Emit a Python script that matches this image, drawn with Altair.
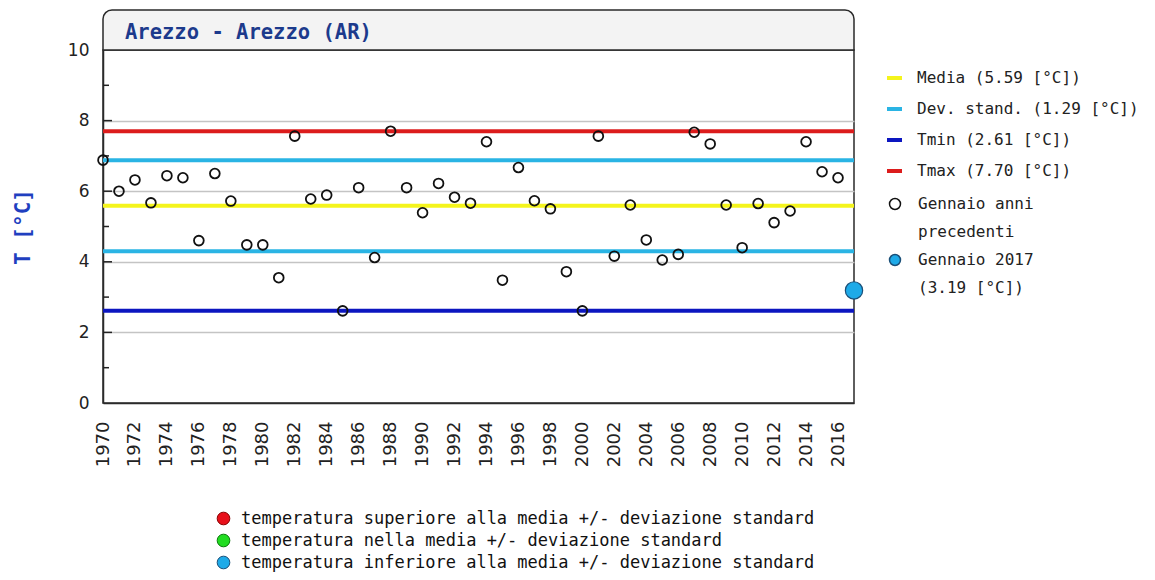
import altair as alt
import pandas as pd

# ---------------- data ----------------
years = list(range(1970, 2017))
temps = [6.88, 6.00, 6.32, 5.67, 6.44, 6.38, 4.60, 6.50, 5.72, 4.48,
         4.48, 3.55, 7.56, 5.78, 5.89, 2.61, 6.10, 4.12, 7.70, 6.10,
         5.39, 6.22, 5.83, 5.66, 7.40, 3.48, 6.67, 5.73, 5.50, 3.72,
         2.61, 7.56, 4.16, 5.61, 4.62, 4.05, 4.21, 7.67, 7.34, 5.61,
         4.40, 5.65, 5.11, 5.44, 7.40, 6.55, 6.38]
year_now = 2017
temp_now = 3.19

media = 5.59
dev_std = 1.29
tmin = 2.61
tmax = 7.70

line_labels = ["Media (5.59 [°C])", "Dev. stand. (1.29 [°C])",
               "Tmin (2.61 [°C])", "Tmax (7.70 [°C])"]
line_colors = ["#f4f41c", "#2ab4e4", "#0c16c0", "#dc1c1c"]

point_labels = ["Gennaio anni", "precedenti", "Gennaio 2017", "(3.19 [°C])"]
point_fills = ["transparent", "transparent", "#1eaae8", "transparent"]
point_strokes = ["#111111", "transparent", "#1a4f78", "transparent"]

class_labels = ["temperatura superiore alla media +/- deviazione standard",
                "temperatura nella media +/- deviazione standard",
                "temperatura inferiore alla media +/- deviazione standard"]
class_fills = ["#e8101a", "#22dd22", "#1eaae8"]
class_strokes = ["#8a0000", "#0a7a0a", "#1a4f78"]

major_ticks = [2, 4, 6, 8]
minor_ticks = [1, 3, 5, 7, 9]
y_values = [0, 2, 4, 6, 8, 10]
x_values = list(range(1970, 2017, 2))

title_text = ["Arezzo - Arezzo (AR)"]

# ---------------- tables ----------------
prev_df = pd.DataFrame({"anno": years, "t": temps, "serie": point_labels[0]})

if temp_now > media + dev_std:
    cls = class_labels[0]
elif temp_now < media - dev_std:
    cls = class_labels[2]
else:
    cls = class_labels[1]
now_df = pd.DataFrame({"anno": [year_now], "t": [temp_now], "classe": [cls]})

ref_df = pd.DataFrame({
    "t": [media, media + dev_std, media - dev_std, tmin, tmax],
    "linea": [line_labels[0], line_labels[1], line_labels[1], line_labels[2], line_labels[3]],
})

W, H = 751, 353
MONO = "DejaVu Sans Mono"
SANS = "DejaVu Sans"
FRAME = "#2a2a2a"

x_scale = alt.Scale(domain=[1970, 2017], nice=False, zero=False)
y_scale = alt.Scale(domain=[0, 10], nice=False, zero=True)

y_axis = alt.Axis(
    values=y_values, format="d",
    labelFont=SANS, labelFontSize=17, labelColor="#222", labelPadding=14,
    ticks=False, domain=True, domainColor=FRAME, domainWidth=1.5,
    grid=True,
    gridColor={"condition": {"test": "datum.value == 0 || datum.value == 10",
                             "value": "transparent"}, "value": "#c4c4c4"},
    gridWidth=1.5,
    title="T [°C]", titleFont=MONO, titleFontWeight="bold", titleFontSize=21,
    titleColor="#1f3fc0", titlePadding=34,
)
x_axis = alt.Axis(
    values=x_values, format="d", labelAngle=270,
    labelFont=SANS, labelFontSize=18, labelColor="#222", labelPadding=18,
    ticks=False, domain=True, domainColor=FRAME, domainWidth=1.5,
    grid=False, labelOverlap=False, labelFlush=False,
    labelBound=False, title=None,
)

# title box (decoration above the plot)
box = alt.Chart(alt.Data(values=[{"k": 1}])).mark_rect(
    fill="#f3f3f3", stroke=FRAME, strokeWidth=1.5,
    cornerRadiusTopLeft=9, cornerRadiusTopRight=9,
).encode(x=alt.value(0), x2=alt.value(W), y=alt.value(-40), y2=alt.value(0))

title_mark = alt.Chart(pd.DataFrame({"titolo": title_text})).mark_text(
    align="left", baseline="alphabetic", font=MONO, fontSize=20.5,
    fontWeight="bold", color="#1c3a8c",
).encode(text="titolo:N", x=alt.value(22), y=alt.value(-11))

# reference lines
rules = alt.Chart(ref_df).mark_rule(strokeWidth=4, opacity=1).encode(
    y=alt.Y("t:Q", scale=y_scale, axis=y_axis),
    stroke=alt.Stroke(
        "linea:N", title=None,
        scale=alt.Scale(domain=line_labels, range=line_colors),
        legend=alt.Legend(
            orient="none", legendX=782, legendY=18.5,
            symbolType="stroke", symbolSize=225, symbolStrokeWidth=4,
            labelFont=MONO, labelFontSize=16, labelColor="#222",
            rowPadding=13, labelOffset=13, labelLimit=400,
        ),
    ),
)

# inward y ticks
tick_major = alt.Chart(pd.DataFrame({"t": major_ticks})).mark_rule(
    color="#222", strokeWidth=1.5
).encode(y=alt.Y("t:Q", scale=y_scale, axis=y_axis), x=alt.value(0), x2=alt.value(9))
tick_minor = alt.Chart(pd.DataFrame({"t": minor_ticks})).mark_rule(
    color="#222", strokeWidth=1.5
).encode(y=alt.Y("t:Q", scale=y_scale, axis=y_axis), x=alt.value(0), x2=alt.value(6))

pts_legend = alt.Legend(
    orient="none", legendX=784, legendY=146,
    symbolType="circle", symbolSize=120, symbolStrokeWidth=1.5, symbolOpacity=1,
    labelFont=MONO, labelFontSize=16, labelColor="#222",
    rowPadding=10, labelOffset=15, labelLimit=400,
)
prev_pts = alt.Chart(prev_df).mark_point(
    shape="circle", size=95, strokeWidth=1.8, filled=True, opacity=1
).encode(
    x=alt.X("anno:Q", scale=x_scale, axis=x_axis),
    y=alt.Y("t:Q", scale=y_scale, axis=y_axis),
    fill=alt.Fill("serie:N", title=None,
                  scale=alt.Scale(domain=point_labels, range=point_fills),
                  legend=pts_legend),
    stroke=alt.Stroke("serie:N", title=None,
                      scale=alt.Scale(domain=point_labels, range=point_strokes),
                      legend=pts_legend),
)

cls_legend = alt.Legend(
    orient="none", legendX=112, legendY=460,
    symbolType="circle", symbolSize=160, symbolStrokeWidth=1, symbolOpacity=1,
    labelFont=MONO, labelFontSize=17, labelColor="#111",
    rowPadding=4, labelOffset=9, labelLimit=800,
)
now_pt = alt.Chart(now_df).mark_point(
    shape="circle", size=300, strokeWidth=1.2, filled=True, opacity=1
).encode(
    x=alt.X("anno:Q", scale=x_scale, axis=x_axis),
    y=alt.Y("t:Q", scale=y_scale, axis=y_axis),
    fill=alt.Fill("classe:N", title=None,
                  scale=alt.Scale(domain=class_labels, range=class_fills),
                  legend=cls_legend),
    stroke=alt.Stroke("classe:N", title=None,
                      scale=alt.Scale(domain=class_labels, range=class_strokes),
                      legend=cls_legend),
)

chart = alt.layer(box, title_mark, rules, tick_major, tick_minor, prev_pts, now_pt).resolve_scale(
    fill="independent", stroke="independent"
).properties(
    width=W, height=H,
    autosize=alt.AutoSizeParams(type="none"),
    padding={"left": 95, "top": 42, "right": 293, "bottom": 170},
    view=alt.ViewBackground(stroke=FRAME, strokeWidth=1.5),
).configure_view(stroke=FRAME, strokeWidth=1.5).configure(background="white")

chart.save("out.html", embed_options={"renderer": "svg", "actions": False})
